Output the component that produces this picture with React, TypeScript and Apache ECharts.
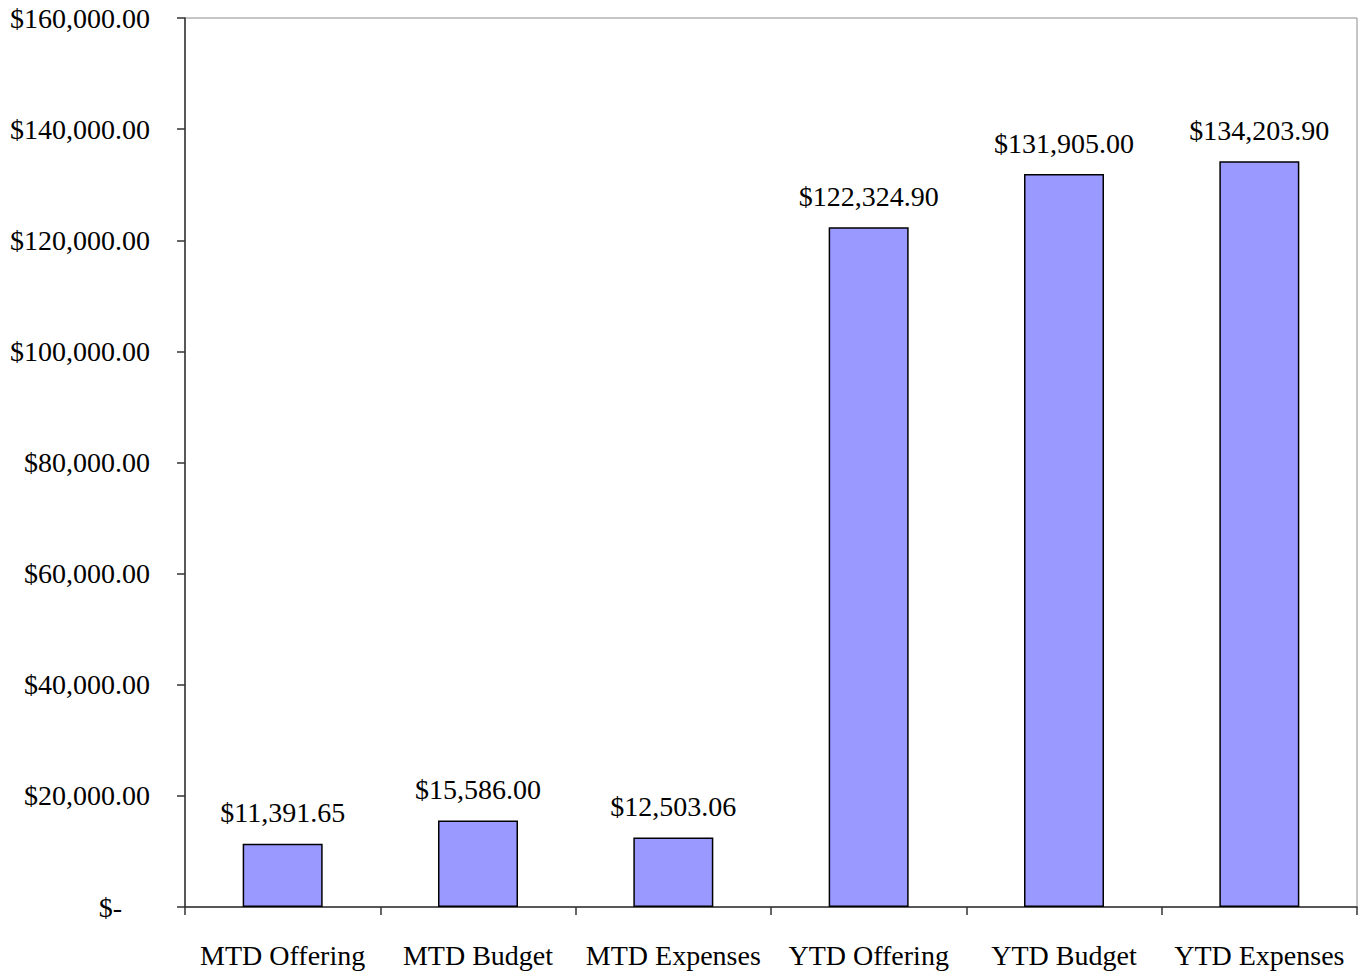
import React, { useEffect, useRef } from "react";
import * as echarts from "echarts";

const categories = ["MTD Offering", "MTD Budget", "MTD Expenses", "YTD Offering", "YTD Budget", "YTD Expenses"];
const values = [11391.65, 15586.0, 12503.06, 122324.9, 131905.0, 134203.9];
const yMin = 0;
const yMax = 160000;
const yInterval = 20000;

const money = (v: number) =>
  "$" + v.toLocaleString("en-US", { minimumFractionDigits: 2, maximumFractionDigits: 2 });

export default function App() {
  const ref = useRef<HTMLDivElement>(null);
  useEffect(() => {
    if (!ref.current) return;
    const chart = echarts.init(ref.current, undefined, { renderer: "svg" });
    const font = "'Liberation Serif', 'Times New Roman', serif";
    chart.setOption({
      animation: false,
      backgroundColor: "#ffffff",
      grid: {
        left: 185,
        right: 4,
        top: 18,
        bottom: 66,
        show: true,
        borderColor: "#8c8c8c",
        borderWidth: 1,
      },
      xAxis: {
        type: "category",
        data: categories,
        axisLine: { lineStyle: { color: "#333", width: 1.5 } },
        axisTick: { show: true, length: 8, lineStyle: { color: "#333", width: 1.5 } },
        axisLabel: {
          color: "#000",
          fontFamily: font,
          fontSize: 28,
          margin: 34,
          interval: 0,
          hideOverlap: false,
        },
      },
      yAxis: {
        type: "value",
        min: yMin,
        max: yMax,
        interval: yInterval,
        splitLine: { show: false },
        axisLine: { show: true, lineStyle: { color: "#333", width: 1.5 } },
        axisTick: { show: true, length: 8, lineStyle: { color: "#333", width: 1.5 } },
        axisLabel: {
          color: "#000",
          fontFamily: font,
          fontSize: 28,
          margin: 35,
          formatter: (v: number) => (v === 0 ? "{z|$-}" : money(v)),
          rich: {
            z: { color: "#000", fontFamily: font, fontSize: 28, padding: [0, 28, 0, 0] },
          },
        },
      },
      series: [
        {
          type: "bar",
          data: values,
          barWidth: 80,
          itemStyle: { color: "#9999ff", borderColor: "#000", borderWidth: 1.5 },
          label: {
            show: true,
            position: "top",
            distance: 17,
            color: "#000",
            fontFamily: font,
            fontSize: 28,
            formatter: (p: any) => money(p.value),
          },
        },
      ],
    });
    return () => chart.dispose();
  }, []);
  return (
    <div
      ref={ref}
      style={{ position: "absolute", left: 0, top: 0, width: 1361, height: 973 }}
    />
  );
}
